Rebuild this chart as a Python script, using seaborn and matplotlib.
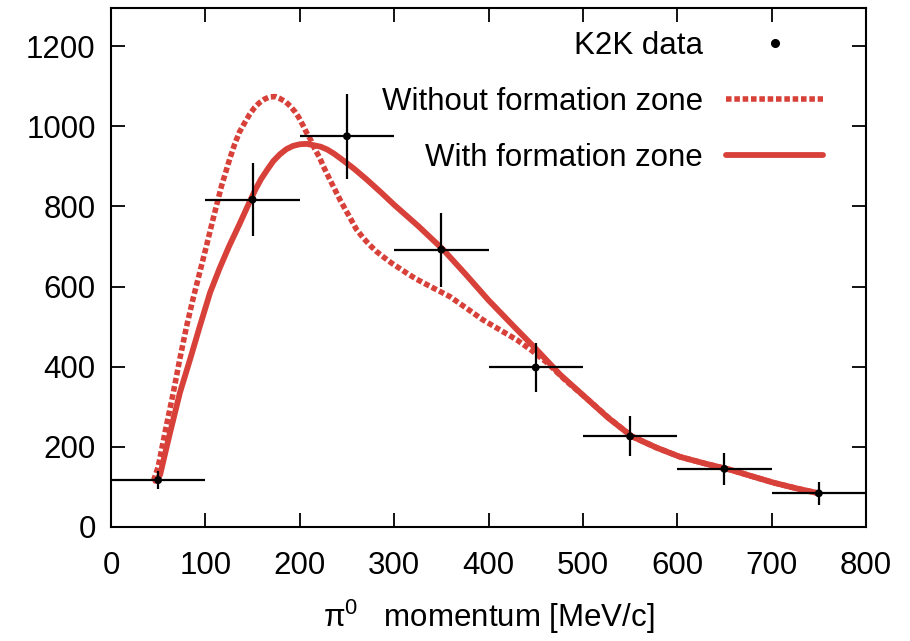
import matplotlib
matplotlib.use("Agg")
import matplotlib.pyplot as plt
from matplotlib.lines import Line2D
import seaborn as sns
import pandas as pd

# K2K data points
data_x = [50, 150, 250, 350, 450, 550, 650, 750]
data_y = [117, 817, 975, 692, 398, 226, 145, 84]
data_xerr = [50, 50, 50, 50, 50, 50, 50, 50]
data_yerr = [22, 90, 106, 92, 61, 50, 40, 28]

# "Without formation zone" curve
without_x = [45, 50, 58, 66, 73, 80, 87, 94, 101, 108, 117, 126, 131, 136, 142, 147,
             152, 157, 163, 168, 174, 179, 185, 190, 195, 199, 203, 207, 212, 216,
             221, 225, 234, 243, 252, 260, 267, 274, 281, 288, 297, 306, 315, 324,
             341, 359, 376, 394, 412, 430, 446, 462, 482, 502, 527, 552, 578, 603,
             630, 656, 680, 703, 727, 750]
without_y = [115, 150, 245, 335, 420, 500, 570, 635, 700, 767, 850, 920, 955, 985,
             1010, 1030, 1046, 1058, 1068, 1073, 1074, 1069, 1061, 1050, 1036, 1022,
             1004, 985, 964, 943, 922, 900, 857, 815, 777, 743, 722, 704, 688, 675,
             659, 645, 631, 618, 597, 575, 547, 517, 492, 467, 440, 410, 365, 325,
             273, 226, 198, 175, 158, 143, 126, 110, 96, 84]

# "With formation zone" curve
with_x = [47, 52, 62, 73, 84, 94, 105, 115, 125, 136, 147, 153, 159, 166, 172, 179,
          186, 193, 200, 207, 214, 222, 229, 236, 243, 257, 271, 286, 300, 326, 352,
          376, 400, 425, 450, 476, 502, 527, 552, 578, 603, 630, 656, 680, 703, 727,
          750]
with_y = [115, 130, 230, 335, 420, 500, 585, 645, 700, 755, 812, 842, 868, 893, 913,
          930, 943, 951, 955, 956, 953, 949, 942, 932, 920, 895, 867, 835, 804, 750,
          692, 630, 566, 505, 445, 380, 325, 272, 226, 198, 175, 158, 143, 126, 110,
          96, 84]

x_ticks = [0, 100, 200, 300, 400, 500, 600, 700, 800]
y_ticks = [0, 200, 400, 600, 800, 1000, 1200]

RED = "#d8413a"
FS = 22.5

sns.set_style("ticks")
plt.rcParams["font.family"] = ["Liberation Sans", "DejaVu Sans"]
plt.rcParams["mathtext.default"] = "regular"
plt.rcParams["text.color"] = "black"
plt.rcParams["axes.labelcolor"] = "black"
plt.rcParams["xtick.color"] = "black"
plt.rcParams["ytick.color"] = "black"
plt.rcParams["axes.edgecolor"] = "black"

fig = plt.figure(figsize=(9.10, 6.41), dpi=100)
ax = fig.add_axes([111 / 910, 1 - 527 / 641, (866 - 111) / 910, (527 - 8) / 641])

df_without = pd.DataFrame({"x": without_x, "y": without_y})
df_with = pd.DataFrame({"x": with_x, "y": with_y})

sns.lineplot(data=df_without, x="x", y="y", ax=ax, color=RED, linewidth=4.0,
             linestyle=(0, (1.0, 0.5)), estimator=None, sort=False)
sns.lineplot(data=df_with, x="x", y="y", ax=ax, color=RED, linewidth=4.2,
             estimator=None, sort=False)
ax.lines[0].set_dash_capstyle("butt")
ax.lines[1].set_solid_joinstyle("round")

ax.errorbar(data_x, data_y, xerr=data_xerr, yerr=data_yerr, fmt="none",
            ecolor="black", elinewidth=1.6, capsize=0, zorder=3)
sns.scatterplot(x=data_x, y=data_y, ax=ax, color="black", s=32, edgecolor="none",
                zorder=4)

ax.set_xlim(0, 800)
ax.set_ylim(0, 1295)
ax.set_xticks(x_ticks)
ax.set_yticks(y_ticks)
ax.tick_params(direction="in", length=10, width=1.3, top=True, right=True,
               labelsize=FS, pad=11, colors="black")
ax.tick_params(axis="x", pad=17)
for s in ax.spines.values():
    s.set_linewidth(1.5)
    s.set_visible(True)
    s.set_color("black")

ax.set_xlabel("π$^{0}$   momentum [MeV/c]", fontsize=FS, labelpad=12, color="black")
ax.set_ylabel("")

handles = [
    Line2D([], [], color="black", marker="o", markersize=5.5, linestyle="none"),
    Line2D([], [], color=RED, linewidth=4.0, linestyle=(0, (1.0, 0.5)),
           dash_capstyle="butt"),
    Line2D([], [], color=RED, linewidth=4.2),
]
labels = ["K2K data", "Without formation zone", "With formation zone"]
leg = ax.legend(handles, labels, loc="upper right", bbox_to_anchor=(0.943, 0.956),
                frameon=False, markerfirst=False, fontsize=FS, handlelength=3.1,
                handletextpad=0.75, labelspacing=0.83, borderpad=0, borderaxespad=0)
for t in leg.get_texts():
    t.set_color("black")

fig.savefig("out.png", dpi=100)
